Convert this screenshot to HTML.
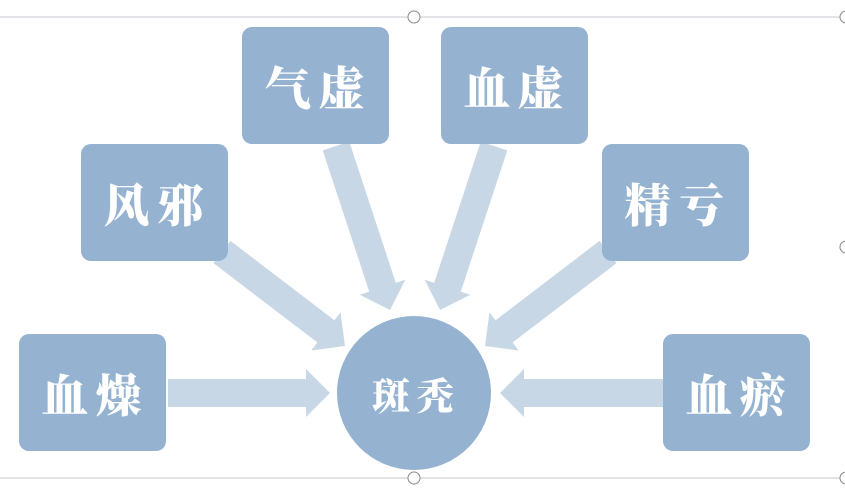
<!DOCTYPE html>
<html><head><meta charset="utf-8"><style>
body{margin:0;width:845px;height:499px;background:#fff;overflow:hidden;position:relative;font-family:"Liberation Serif","Noto Serif CJK SC",serif}
.b{position:absolute;width:147px;height:117px;background:#95b3d1;border-radius:10px;color:#fff;font-size:46px;font-weight:900;display:flex;align-items:center;justify-content:center;letter-spacing:8px;padding-left:6px;box-sizing:border-box}
.c{position:absolute;left:337px;top:316px;width:154px;height:154px;border-radius:50%;background:#95b3d1;color:#fff;font-size:38px;font-weight:900;display:flex;align-items:center;justify-content:center;letter-spacing:6px;padding-left:4px;box-sizing:border-box}
</style></head><body>
<svg width="845" height="499" style="position:absolute;left:0;top:0">
<line x1="0" y1="17" x2="845" y2="17" stroke="#c8c8d0" stroke-width="1"/>
<line x1="0" y1="478" x2="845" y2="478" stroke="#c8c8d0" stroke-width="1"/>
<circle cx="414" cy="17" r="6" fill="#fff" stroke="#888"/>
<circle cx="414" cy="478" r="6" fill="#fff" stroke="#888"/>
<circle cx="846" cy="247" r="6" fill="#fff" stroke="#888"/>
<circle cx="846" cy="17" r="6" fill="#fff" stroke="#888"/>
<circle cx="846" cy="478" r="6" fill="#fff" stroke="#888"/>
<g id="arr" fill="#c8d7e5"></g>
</svg>
<div class="b" style="left:242px;top:27px">气虚</div>
<div class="b" style="left:441px;top:27px">血虚</div>
<div class="b" style="left:81px;top:144px">风邪</div>
<div class="b" style="left:602px;top:144px">精亏</div>
<div class="b" style="left:19px;top:334px">血燥</div>
<div class="b" style="left:663px;top:334px">血瘀</div>
<div class="c">斑秃</div>
<script>
var g=document.getElementById('arr');
function A(ax,ay,tx,ty){var dx=tx-ax,dy=ty-ay,L=Math.hypot(dx,dy),ux=dx/L,uy=dy/L,nx=-uy,ny=ux,sw=14,hw=24,hl=24;
var bx=tx-ux*hl,by=ty-uy*hl;
var p=[[ax+nx*sw,ay+ny*sw],[bx+nx*sw,by+ny*sw],[bx+nx*hw,by+ny*hw],[tx,ty],[bx-nx*hw,by-ny*hw],[bx-nx*sw,by-ny*sw],[ax-nx*sw,ay-ny*sw]];
var e=document.createElementNS('http://www.w3.org/2000/svg','polygon');e.setAttribute('points',p.map(function(q){return q.join(',')}).join(' '));g.appendChild(e);}
A(168,393,330,393);A(663,393,500,393);
A(336,146,390,310);A(494,146,440,310);
A(222,252,345,346);A(608,252,485,346);
</script>
</body></html>
